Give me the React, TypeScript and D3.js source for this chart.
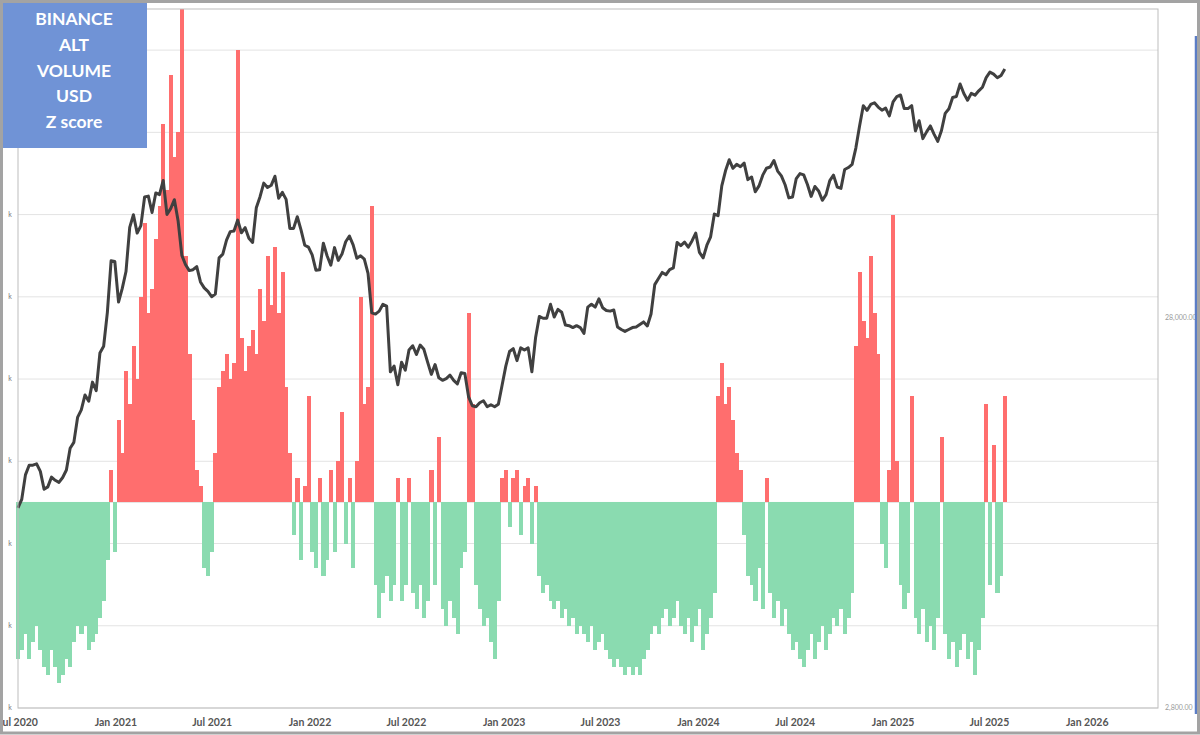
import { useEffect, useRef } from "react";
import * as d3 from "d3";

// one reading per week, starting here
const startDate = "2020-07-16";

// weekly Z score of Binance alt volume (USD)
const zScores = [
  -1.9, -1.8, -1.6, -1.9, -1.7, -1.5, -1.8, -2.0, -2.1, -1.8,
  -2.0, -2.2, -2.1, -1.9, -2.0, -1.7, -1.5, -1.6, -1.5, -1.8,
  -1.7, -1.6, -1.4, -1.2, -0.7, 0.4, -0.6, 1.0, 0.6, 1.6,
  1.2, 1.9, 1.5, 2.5, 3.4, 2.3, 2.6, 3.2, 3.6, 4.6,
  3.8, 5.2, 4.2, 4.5, 6.0, 3.0, 1.8, 1.0, 0.4, 0.2,
  -0.8, -0.9, -0.6, 0.6, 1.4, 1.6, 1.8, 1.5, 1.7, 5.5,
  2.0, 1.6, 1.9, 2.1, 1.8, 2.6, 2.2, 3.0, 2.4, 3.1,
  2.3, 2.8, 1.4, 0.6, -0.4, 0.3, -0.7, 0.2, 1.3, -0.6,
  -0.8, 0.3, -0.9, -0.7, 0.4, -0.6, 0.5, 1.1, -0.5, 0.3,
  -0.8, 0.5, 2.5, 1.2, 1.4, 3.6, -1.0, -1.4, -1.1, -0.9,
  -1.2, -1.0, 0.3, -1.2, -1.0, 0.3, -1.1, -1.3, -1.0, -1.4,
  -1.2, 0.4, -1.0, 0.8, -1.3, -1.5, -1.2, -1.4, -1.6, -0.8,
  -0.6, 2.3, 1.2, -1.0, -1.3, -1.5, -1.4, -1.7, -1.9, -1.2,
  0.3, 0.4, -0.3, 0.3, 0.4, -0.4, 0.2, 0.3, -0.5, 0.2,
  -0.9, -1.1, -1.0, -1.2, -1.3, -1.2, -1.4, -1.3, -1.5, -1.4,
  -1.6, -1.5, -1.6, -1.7, -1.5, -1.8, -1.7, -1.6, -1.8, -1.9,
  -2.0, -1.9, -2.0, -2.1, -2.0, -2.1, -2.0, -2.1, -1.9, -1.8,
  -1.6, -1.5, -1.6, -1.4, -1.3, -1.5, -1.4, -1.2, -1.5, -1.6,
  -1.4, -1.7, -1.5, -1.3, -1.8, -1.6, -1.4, -1.1, 1.3, 1.7,
  1.2, 1.4, 1.0, 0.6, 0.4, -0.4, -0.9, -1.0, -1.2, -0.8,
  -1.3, 0.3, -1.1, -1.4, -1.2, -1.5, -1.3, -1.6, -1.8, -1.7,
  -1.9, -2.0, -1.8, -1.6, -1.9, -1.7, -1.5, -1.8, -1.6, -1.4,
  -1.5, -1.3, -1.6, -1.4, -1.1, 1.9, 2.8, 2.2, 2.0, 3.0,
  2.3, 1.8, -0.5, -0.8, 0.4, 3.5, 0.5, -1.0, -1.3, -1.1,
  1.3, -1.4, -1.6, -1.3, -1.7, -1.5, -1.8, -1.4, 0.8, -1.6,
  -1.9, -1.7, -2.0, -1.8, -1.6, -1.9, -1.7, -2.1, -1.8, -1.4,
  1.2, -1.0, 0.7, -1.1, -0.9, 1.3,
];

// weekly BTC price (USD), same weeks
const btcPrice = [
  // 2020
  9130, 9600, 11100, 11750, 11750, 11850, 11330, 10200, 10340, 10950,
  10750, 10620, 10930, 11420, 12990, 13450, 15580, 16300, 17800, 17150,
  19200, 18250, 22800, 23730, 28990,
  // 2021
  39300, 39150, 30800, 33400, 36900, 47900, 51600, 46300, 48400, 57300,
  57600, 52300, 58700, 58100, 63200, 51700, 53500, 56400, 49700, 40600,
  38400, 37100, 37300, 38000, 34700, 33500, 32800, 31800, 32300, 40000,
  40900, 44400, 46700, 46900, 50000, 46400, 47800, 44900, 43800, 53800,
  57400, 62200, 60600, 61400, 64800, 56900, 58900, 56500, 47600, 47600,
  51000, 47200,
  // 2022
  43100, 42600, 40700, 37200, 37300, 43600, 40500, 38300, 42500, 39400,
  40900, 44000, 45500, 43200, 39900, 40500, 39700, 36500, 28900, 28700,
  29200, 30400, 30100, 20400, 21100, 18900, 21600, 20600, 23200, 23800,
  22600, 23900, 23300, 21600, 20100, 21300, 19700, 19400, 19600, 20000,
  19400, 19000, 20300, 20200, 17600, 16700, 16600, 17000, 17200, 16600,
  16800, 16600,
  // 2023
  16850, 18850, 21100, 23000, 23400, 21800, 23500, 23200, 23500, 20400,
  25000, 28300, 28000, 28000, 30400, 28200, 29500, 29000, 26900, 26800,
  26500, 26800, 26500, 25600, 29900, 30400, 29900, 31400, 29800, 29300,
  29200, 29400, 26600, 26200, 25900, 26200, 26500, 26600, 27000, 27400,
  26750, 28700, 34150, 35400, 36700, 36200, 37300, 37700, 43800, 43000,
  43900, 42600,
  // 2024
  44200, 46300, 41300, 40000, 43100, 45300, 51800, 51300, 61200, 66900,
  71400, 67900, 69500, 68500, 70000, 63500, 64500, 59100, 61200, 65200,
  67900, 68400, 71100, 66800, 64900, 61600, 57000, 57300, 63900, 65800,
  65300, 61700, 57500, 61000, 59400, 56200, 58100, 63100, 65200, 60800,
  60300, 67400, 68200, 69500, 76500, 87200, 98300, 95600, 99000, 100000,
  97500, 95700,
  // 2025
  96900, 92500, 100500, 103700, 104700, 96600, 96600, 98300, 84700, 89900,
  80900, 84200, 87200, 83100, 79600, 84900, 93900, 96500, 103200, 103800,
  111700, 105600, 101500, 105700, 104600, 107300, 109600, 116000, 119800, 118400,
  115900, 117500, 122000,
];

const xTickDates = [
  "2020-07-16", "2021-01-16", "2021-07-16", "2022-01-16", "2022-07-16", "2023-01-16",
  "2023-07-16", "2024-01-16", "2024-07-16", "2025-01-16", "2025-07-16", "2026-01-16",
];
const xTickLabels = [
  "Jul 2020", "Jan 2021", "Jul 2021", "Jan 2022", "Jul 2022", "Jan 2023",
  "Jul 2023", "Jan 2024", "Jul 2024", "Jan 2025", "Jul 2025", "Jan 2026",
];
const leftTicks = [0, 1, 2, 3, 4, 5, 6, 7, 8];
const leftTickLabel = "k";
const rightTicks = [2800, 28000];
const rightTickLabels = ["2,800.00", "28,000.00"];
const titleLines = ["BINANCE", "ALT", "VOLUME", "USD", "Z score"];

const App = () => {
  const svgRef = useRef<SVGSVGElement>(null);

  useEffect(() => {
    const w = 1200;
    const h = 735;
    const left = 18, right = 1158, top = 9, bottom = 708;

    const svg = d3.select(svgRef.current);
    svg.selectAll("*").remove();
    svg
      .attr("width", w)
      .attr("height", h)
      .style("position", "absolute")
      .style("left", "0px")
      .style("top", "0px")
      .style("background", "#ffffff");

    const parse = d3.utcParse("%Y-%m-%d");
    const start = parse(startDate) as Date;
    const weeks = zScores.map((_, i) => d3.utcDay.offset(start, 7 * i));

    // scales
    const x = d3
      .scaleUtc()
      .domain([parse("2020-07-16") as Date, parse("2026-05-29") as Date])
      .range([left, right]);
    const yLeft = d3.scaleLinear().domain([0, 8.5]).range([bottom, top]);
    const yZ = d3.scaleLinear().domain([-2.5, 6]).range([bottom, top]);
    const yPrice = d3.scaleLog().domain([2800, 174000]).range([bottom, top]);

    // gridlines
    svg
      .append("g")
      .selectAll("line")
      .data(leftTicks)
      .join("line")
      .attr("x1", left)
      .attr("x2", right)
      .attr("y1", (d) => yLeft(d))
      .attr("y2", (d) => yLeft(d))
      .attr("stroke", "#e3e3e3")
      .attr("stroke-width", 1);

    svg
      .append("line")
      .attr("x1", left)
      .attr("x2", right)
      .attr("y1", yZ(0))
      .attr("y2", yZ(0))
      .attr("stroke", "#e3e3e3");

    // z score bars, drawn edge to edge so they read as one filled band
    const step = x(weeks[1]) - x(weeks[0]);
    const bw = step + 0.4;
    svg
      .append("g")
      .attr("shape-rendering", "crispEdges")
      .selectAll("rect")
      .data(zScores)
      .join("rect")
      .attr("x", (d, i) => x(weeks[i]) - step / 2)
      .attr("y", (d) => yZ(Math.max(d, 0)))
      .attr("width", bw)
      .attr("height", (d) => Math.abs(yZ(d) - yZ(0)))
      .attr("fill", (d) => (d >= 0 ? "#ff6e6e" : "#8adbb0"));

    // price line
    const line = d3
      .line<number>()
      .x((d, i) => x(weeks[i]))
      .y((d) => yPrice(d));
    svg
      .append("path")
      .datum(btcPrice)
      .attr("d", line)
      .attr("fill", "none")
      .attr("stroke", "#404040")
      .attr("stroke-width", 3)
      .attr("stroke-linejoin", "round");

    // plot border
    svg
      .append("rect")
      .attr("x", left)
      .attr("y", top)
      .attr("width", right - left)
      .attr("height", bottom - top)
      .attr("fill", "none")
      .attr("stroke", "#bdbdbd");

    // left axis labels
    svg
      .append("g")
      .selectAll("text")
      .data(leftTicks)
      .join("text")
      .attr("x", 10)
      .attr("y", (d) => yLeft(d) + 2)
      .attr("text-anchor", "middle")
      .attr("font-family", "Lato, sans-serif")
      .attr("font-size", 7)
      .attr("fill", "#7a7a7a")
      .text(leftTickLabel);

    // right axis labels
    svg
      .append("g")
      .selectAll("text")
      .data(rightTicks)
      .join("text")
      .attr("x", 1165)
      .attr("y", (d) => yPrice(d) + 2)
      .attr("font-family", "Lato, sans-serif")
      .attr("font-size", 7)
      .attr("fill", "#9a9a9a")
      .text((d, i) => rightTickLabels[i]);

    // bottom axis labels
    svg
      .append("g")
      .selectAll("text")
      .data(xTickDates)
      .join("text")
      .attr("x", (d) => x(parse(d) as Date))
      .attr("y", 726)
      .attr("text-anchor", "middle")
      .attr("font-family", "Lato, sans-serif")
      .attr("font-weight", 700)
      .attr("font-size", 10.5)
      .attr("fill", "#555555")
      .text((d, i) => xTickLabels[i]);

    // title box
    svg
      .append("rect")
      .attr("x", 0)
      .attr("y", 0)
      .attr("width", 147)
      .attr("height", 148)
      .attr("fill", "#7093d6");
    svg
      .append("g")
      .selectAll("text")
      .data(titleLines)
      .join("text")
      .attr("x", 74)
      .attr("y", (d, i) => 25 + i * 25.8)
      .attr("text-anchor", "middle")
      .attr("font-family", "Lato, sans-serif")
      .attr("font-weight", 700)
      .attr("font-size", 17.5)
      .attr("fill", "#ffffff")
      .text((d) => d);

    // outer frame
    svg
      .append("line")
      .attr("x1", 1196)
      .attr("x2", 1196)
      .attr("y1", 36)
      .attr("y2", 714)
      .attr("stroke", "#5b7dc6")
      .attr("stroke-width", 2.5);
    svg
      .append("rect")
      .attr("x", 1.5)
      .attr("y", 1.5)
      .attr("width", w - 3)
      .attr("height", h - 3.5)
      .attr("fill", "none")
      .attr("stroke", "#a3a3a3")
      .attr("stroke-width", 3);
  }, []);

  return <svg ref={svgRef}></svg>;
};

export default App;
